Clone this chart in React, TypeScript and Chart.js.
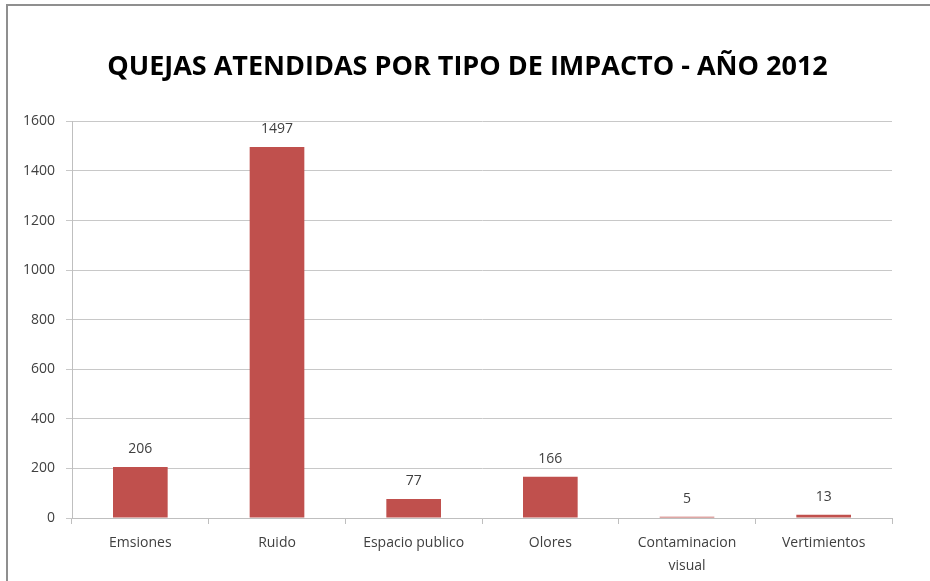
import React, { useEffect, useRef } from "react";
import { Chart, registerables } from "chart.js";

Chart.register(...registerables);

const categories: (string | string[])[] = [
  "Emsiones",
  "Ruido",
  "Espacio publico",
  "Olores",
  ["Contaminacion", "visual"],
  "Vertimientos",
];
const quejas: number[] = [206, 1497, 77, 166, 5, 13];
const yTicks: number[] = [0, 200, 400, 600, 800, 1000, 1200, 1400, 1600];
const chartTitle = "QUEJAS ATENDIDAS POR TIPO DE IMPACTO - AÑO 2012";

const valueLabels = {
  id: "valueLabels",
  afterDatasetsDraw(chart: any) {
    const ctx = chart.ctx;
    const meta = chart.getDatasetMeta(0);
    ctx.save();
    ctx.font = "14px 'Open Sans', sans-serif";
    ctx.fillStyle = "#404040";
    ctx.textAlign = "center";
    ctx.textBaseline = "middle";
    meta.data.forEach((bar: any, i: number) => {
      ctx.fillText(String(quejas[i]), bar.x, bar.y - 18);
    });
    ctx.restore();
  },
};

export default function App() {
  const ref = useRef<HTMLCanvasElement | null>(null);
  useEffect(() => {
    if (!ref.current) return;
    const chart = new Chart(ref.current, {
      type: "bar",
      data: {
        labels: categories,
        datasets: [
          {
            data: quejas,
            backgroundColor: "#C0504D",
            borderWidth: 0,
            barPercentage: 0.4,
            categoryPercentage: 1,
          },
        ],
      },
      options: {
        animation: false,
        responsive: false,
        maintainAspectRatio: false,
        layout: { padding: { top: 0, right: 0, bottom: 0, left: 5 } },
        plugins: {
          legend: { display: false },
          tooltip: { enabled: false },
          title: {
            display: true,
            text: chartTitle,
            color: "#000000",
            font: { family: "'Open Sans', sans-serif", size: 27, weight: "bold", lineHeight: 1.2 },
            padding: { top: 51, bottom: 38 },
          },
        },
        scales: {
          x: {
            grid: {
              display: true,
              drawOnChartArea: false,
              drawTicks: true,
              tickLength: 6,
              color: "#bfbfbf",
              offset: true,
            },
            border: { display: true, color: "#bfbfbf", width: 1 },
            ticks: {
              color: "#404040",
              font: { family: "'Open Sans', sans-serif", size: 14, lineHeight: 1.6 },
              padding: 8,
              maxRotation: 0,
              autoSkip: false,
            },
            afterFit(scale: any) {
              scale.height = 63;
            },
          },
          y: {
            min: 0,
            max: 1600,
            afterBuildTicks(scale: any) {
              scale.ticks = yTicks.map((v) => ({ value: v }));
            },
            grid: {
              color: "#c8c8c8",
              tickLength: 6,
              drawTicks: true,
            },
            border: { display: true, color: "#bfbfbf", width: 1 },
            ticks: {
              color: "#404040",
              font: { family: "'Open Sans', sans-serif", size: 14 },
              padding: 11,
              callback: (v: any) => String(v),
            },
            afterFit(scale: any) {
              scale.width = 67;
            },
          },
          spacer: {
            type: "linear",
            position: "right",
            display: true,
            grid: { display: false, drawOnChartArea: false, drawTicks: false },
            border: { display: false },
            ticks: { display: false },
            afterFit(scale: any) {
              scale.width = 38;
            },
          },
        },
      },
      plugins: [valueLabels],
    });
    return () => chart.destroy();
  }, []);

  return (
    <div style={{ position: "fixed", left: 0, top: 0, width: 930, height: 581, background: "#fff", overflow: "hidden" }}>
      <div
        style={{
          position: "absolute",
          left: 6,
          top: 4,
          width: 940,
          height: 600,
          borderLeft: "2px solid #8f8f8f",
          borderTop: "2px solid #8f8f8f",
        }}
      />
      <canvas ref={ref} width={930} height={581} style={{ position: "absolute", left: 0, top: 0, width: 930, height: 581 }} />
    </div>
  );
}
